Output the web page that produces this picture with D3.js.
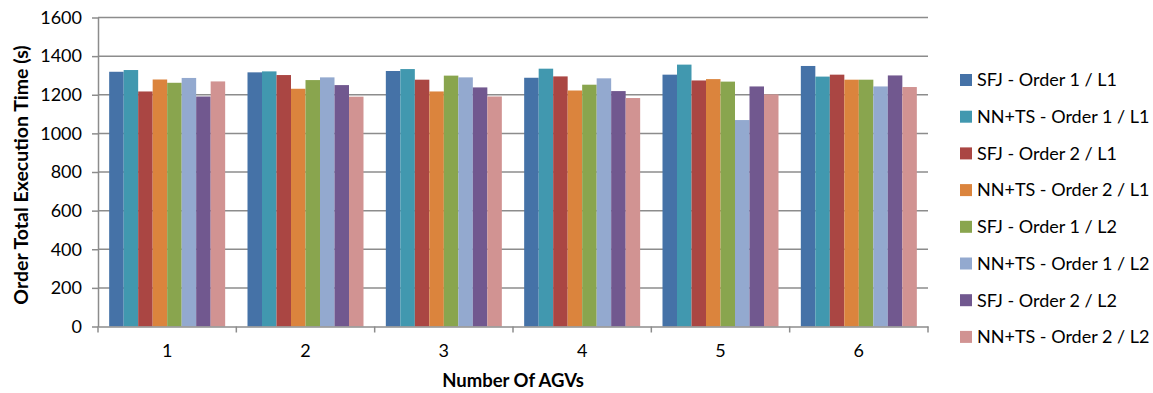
<!DOCTYPE html>
<html><head><meta charset="utf-8">
<script src="https://cdn.jsdelivr.net/npm/d3@7"></script>
<style>body{margin:0;background:#fff}svg{display:block}</style>
</head><body>
<svg id="c" width="1153" height="393"></svg>
<script>
const categories = ["1","2","3","4","5","6"];
const seriesNames = ["SFJ - Order 1 / L1","NN+TS - Order 1 / L1","SFJ - Order 2 / L1","NN+TS - Order 2 / L1","SFJ - Order 1 / L2","NN+TS - Order 1 / L2","SFJ - Order 2 / L2","NN+TS - Order 2 / L2"];
const sfjO1L1 = [1319,1316,1323,1288,1304,1349];
const nnO1L1  = [1328,1321,1333,1335,1356,1294];
const sfjO2L1 = [1217,1302,1278,1295,1274,1304];
const nnO2L1  = [1279,1231,1217,1222,1281,1278];
const sfjO1L2 = [1262,1276,1299,1252,1268,1278];
const nnO1L2  = [1287,1290,1290,1285,1069,1243];
const sfjO2L2 = [1191,1250,1238,1219,1243,1300];
const nnO2L2  = [1269,1190,1191,1183,1202,1240];
const yTicks = [0,200,400,600,800,1000,1200,1400,1600];
const colors = ["#4572A7","#4198AF","#AA4643","#DB843D","#89A54E","#93A9CF","#71588F","#D19392"];

const seriesValues = [sfjO1L1,nnO1L1,sfjO2L1,nnO2L1,sfjO1L2,nnO1L2,sfjO2L2,nnO2L2];
const svg = d3.select("#c");
const FONT = "Lato, 'Open Sans', sans-serif";
const mLeft = 98, mRight = 928, mTop = 17.5, mBottom = 326.5;

const x0 = d3.scaleBand().domain(categories).range([mLeft, mRight]).padding(0);
const x1 = d3.scaleBand().domain(seriesNames).range([0, x0.bandwidth()]).paddingInner(0).paddingOuter(0.77);
const y = d3.scaleLinear().domain([0, 1600]).range([mBottom, mTop]);

// gridlines
svg.append("g").selectAll("line").data(yTicks.filter(d => d > 0)).join("line")
  .attr("x1", mLeft).attr("x2", mRight)
  .attr("y1", d => y(d)).attr("y2", d => y(d))
  .attr("stroke", "#8c8c8c").attr("stroke-width", 1.5);

// bars
const groups = svg.append("g").selectAll("g").data(categories).join("g")
  .attr("transform", d => `translate(${x0(d)},0)`);
groups.selectAll("rect").data((c, ci) => seriesNames.map((s, si) => ({s, si, v: seriesValues[si][ci]})))
  .join("rect")
  .attr("x", d => x1(d.s)).attr("width", x1.bandwidth())
  .attr("y", d => y(d.v)).attr("height", d => y(0) - y(d.v))
  .attr("fill", d => colors[d.si]);

// y axis
const yAxis = svg.append("g").attr("transform", `translate(${mLeft},0)`)
  .call(d3.axisLeft(y).tickValues(yTicks).tickFormat(d3.format("d")).tickSize(6).tickPadding(10).tickSizeOuter(0));
yAxis.select(".domain").attr("stroke", "#8c8c8c").attr("stroke-width", 1.5);
yAxis.selectAll(".tick line").attr("stroke", "#8c8c8c").attr("stroke-width", 1.5);
yAxis.selectAll("text").attr("font-family", FONT).attr("font-size", 18).attr("fill", "#000");

// x axis
const xAxis = svg.append("g").attr("transform", `translate(0,${mBottom})`)
  .call(d3.axisBottom(x0).tickSize(0).tickPadding(18));
xAxis.select(".domain").attr("stroke", "#8c8c8c").attr("stroke-width", 1.5);
xAxis.selectAll("text").attr("font-family", FONT).attr("font-size", 18).attr("fill", "#000");
const boundaries = categories.map(c => x0(c)).concat([mRight]);
svg.append("g").selectAll("line").data(boundaries).join("line")
  .attr("x1", d => d).attr("x2", d => d).attr("y1", mBottom).attr("y2", mBottom + 6)
  .attr("stroke", "#8c8c8c").attr("stroke-width", 1.5);

// axis titles
svg.append("text").attr("transform", `translate(28,175) rotate(-90)`)
  .attr("text-anchor", "middle").attr("font-family", FONT).attr("font-weight", "bold")
  .attr("font-size", 19.5).text("Order Total Execution Time (s)");
svg.append("text").attr("x", (mLeft + mRight) / 2).attr("y", 387)
  .attr("text-anchor", "middle").attr("font-family", FONT).attr("font-weight", "bold")
  .attr("font-size", 18.5).text("Number Of AGVs");

// legend
const leg = svg.append("g").selectAll("g").data(seriesNames).join("g")
  .attr("transform", (d, i) => `translate(960,${80 + i * 36.7})`);
leg.append("rect").attr("x", 0).attr("y", -6).attr("width", 12).attr("height", 12)
  .attr("fill", (d, i) => colors[i]);
leg.append("text").attr("x", 17).attr("y", 0).attr("dy", "0.35em")
  .attr("font-family", FONT).attr("font-size", 18).text(d => d);
</script>
</body></html>
